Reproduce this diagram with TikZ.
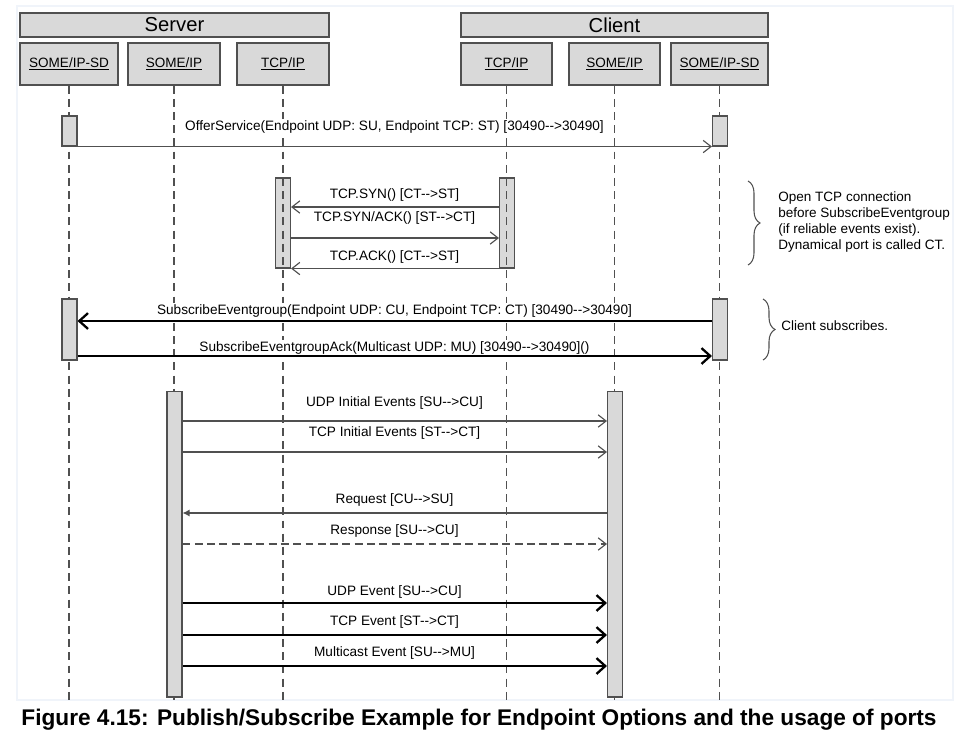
\documentclass[tikz,border=0pt]{standalone}
\usepackage{fontspec}
\setmainfont{Liberation Sans}[Ligatures=TeXOff]
\usetikzlibrary{arrows.meta,decorations.pathreplacing}
\definecolor{boxgray}{RGB}{217,217,217}
\definecolor{linegray}{RGB}{80,80,80}
\definecolor{framegray}{RGB}{240,244,250}

\begin{document}
\begin{tikzpicture}[x=0.02cm,y=-0.02cm]
        \tikzstyle{side}=[draw=linegray,fill=boxgray,line width=0.8pt,inner sep=0pt,minimum height=0.48cm,font=\fontsize{11.5}{13}\selectfont]
        \tikzstyle{layer}=[draw=linegray,fill=boxgray,line width=0.8pt,inner sep=0pt,minimum height=0.84cm,font=\fontsize{7.7}{9}\selectfont]
        \tikzstyle{act}=[draw=linegray,fill=boxgray,line width=0.6pt,inner sep=0pt,minimum width=0.3cm]
        \tikzstyle{life}=[draw=linegray,line width=0.6pt,dash pattern=on 4.5pt off 3pt]
        \tikzstyle{msg}=[draw=linegray,line width=0.65pt,-{Straight Barb[length=4.5pt,width=7pt]}]
        \tikzstyle{boldmsg}=[draw=black,line width=1.3pt,-{Straight Barb[length=5pt,width=9pt]}]
        \tikzstyle{lbl}=[font=\fontsize{7.75}{9}\selectfont,inner sep=0.8pt,fill=white]
        \tikzstyle{note}=[font=\fontsize{7.7}{9.2}\selectfont,align=left,anchor=west,inner sep=0pt]
        \tikzstyle{curly}=[draw=linegray,line width=0.6pt,decorate,decoration={brace,amplitude=0.24cm}]

        \useasboundingbox (0,0) rectangle (962,748);
        \draw[framegray,line width=1.5pt] (17,6) rectangle (953,700);

       % participants
       \begin{scope}
         \node [side,minimum width=6.18cm] (server) at (174.5,25) {Server};
         \node [side,minimum width=6.14cm] (client) at (614.5,25) {Client};
         \node [layer,minimum width=1.96cm] (sdS)   at (69,64)    {\underline{SOME/IP-SD}};
         \node [layer,minimum width=1.84cm] (someS) at (174,64)   {\underline{SOME/IP}};
         \node [layer,minimum width=1.84cm] (tcpS)  at (283,64)   {\underline{TCP/IP}};
         \node [layer,minimum width=1.82cm] (tcpC)  at (506.5,64) {\underline{TCP/IP}};
         \node [layer,minimum width=1.82cm] (someC) at (614.5,64) {\underline{SOME/IP}};
         \node [layer,minimum width=1.94cm] (sdC)   at (719.5,64) {\underline{SOME/IP-SD}};
       \end{scope}

       % lifelines and activations
       \begin{scope}
         \coordinate (bottom) at (0,700);
         \node [act,minimum height=1.8cm] (tcpSa) at (283,223) {};
         \node [act,minimum height=1.8cm] (tcpCa) at (507,223) {};

         \draw[life] (sdS.south) -- (sdS.south |- bottom);
         \draw[life] (someS.south) -- (someS.south |- bottom);
         \draw[life] (tcpS.south) -- (tcpS.south |- bottom);
         \draw[life] (tcpC.south) -- (tcpC.south |- bottom);
         \draw[life] (someC.south) -- (someC.south |- bottom);
         \draw[life] (sdC.south) -- (sdC.south |- bottom);

         \node [act,minimum height=0.6cm]  (offS) at (69.5,131)  {};
         \node [act,minimum height=0.6cm]  (offC) at (720,131)   {};
         \node [act,minimum height=1.22cm] (subS) at (69.5,329.5) {};
         \node [act,minimum height=1.22cm] (subC) at (720,329.5)  {};
         \node [act,minimum height=6.12cm] (evS)  at (174.5,544) {};
         \node [act,minimum height=6.12cm] (evC)  at (615,544)   {};
       \end{scope}

       % service discovery and tcp handshake
       \begin{scope}
         \coordinate (syn) at (0,207);
         \coordinate (synack) at (0,238);
         \coordinate (sub) at (0,321);
         \coordinate (ack) at (0,356);

         \node [lbl] (offer) at (394.5,127) {OfferService(Endpoint UDP: SU, Endpoint TCP: ST) [30490-->30490]};
         \draw[msg] (offS.south east) -- (offC.south west);

         \node [lbl] (l1) at (394.5,195) {TCP.SYN() [CT-->ST]};
         \node [lbl] (l2) at (394.5,218) {TCP.SYN/ACK() [ST-->CT]};
         \node [lbl] (l3) at (394.5,257) {TCP.ACK() [CT-->ST]};
         \draw[msg] (tcpCa.west |- syn) -- (tcpSa.east |- syn);
         \draw[msg] (tcpSa.east |- synack) -- (tcpCa.west |- synack);
         \draw[msg] (tcpCa.south west) -- (tcpSa.south east);

         \node [lbl] (l4) at (394.5,311) {SubscribeEventgroup(Endpoint UDP: CU, Endpoint TCP: CT) [30490-->30490]};
         \node [lbl] (l5) at (394.5,348) {SubscribeEventgroupAck(Multicast UDP: MU) [30490-->30490]()};
         \draw[boldmsg] (subC.west |- sub) -- (subS.east |- sub);
         \draw[boldmsg] (subS.east |- ack) -- (subC.west |- ack);

         \coordinate (b1top) at (748,181);
         \coordinate (b1bot) at (748,265);
         \coordinate (b2top) at (763,299);
         \coordinate (b2bot) at (763,360);
         \draw[curly] (b1top) -- (b1bot);
         \draw[curly] (b2top) -- (b2bot);
         \node [note] (n1) at (778,222) {Open TCP connection\\before SubscribeEventgroup\\(if reliable events exist).\\Dynamical port is called CT.};
         \node [note] (n2) at (781,326) {Client subscribes.};
       \end{scope}

       % events
       \begin{scope}
         \coordinate (e1) at (0,421);
         \coordinate (e2) at (0,452);
         \coordinate (e3) at (0,513);
         \coordinate (e4) at (0,544);
         \coordinate (e5) at (0,603);
         \coordinate (e6) at (0,635);
         \coordinate (e7) at (0,666);

         \node [lbl] (l6)  at (394.5,403) {UDP Initial Events [SU-->CU]};
         \node [lbl] (l7)  at (394.5,433) {TCP Initial Events [ST-->CT]};
         \node [lbl] (l8)  at (394.5,500) {Request [CU-->SU]};
         \node [lbl] (l9)  at (394.5,531) {Response [SU-->CU]};
         \node [lbl] (l10) at (394.5,592) {UDP Event [SU-->CU]};
         \node [lbl] (l11) at (394.5,622) {TCP Event [ST-->CT]};
         \node [lbl] (l12) at (394.5,653) {Multicast Event [SU-->MU]};

         \draw[msg] (evS.east |- e1) -- (evC.west |- e1);
         \draw[msg] (evS.east |- e2) -- (evC.west |- e2);
         \draw[msg,-{Latex[length=4pt,width=4pt]}] (evC.west |- e3) -- (evS.east |- e3);
         \draw[msg,dash pattern=on 4.5pt off 2.5pt] (evS.east |- e4) -- (evC.west |- e4);
         \draw[boldmsg] (evS.east |- e5) -- (evC.west |- e5);
         \draw[boldmsg] (evS.east |- e6) -- (evC.west |- e6);
         \draw[boldmsg] (evS.east |- e7) -- (evC.west |- e7);
       \end{scope}

       \node [font=\fontsize{12.9}{15}\selectfont\bfseries] (caption) at (479,720) {Figure 4.15: Publish/Subscribe Example for Endpoint Options and the usage of ports};
\end{tikzpicture}
\end{document}
